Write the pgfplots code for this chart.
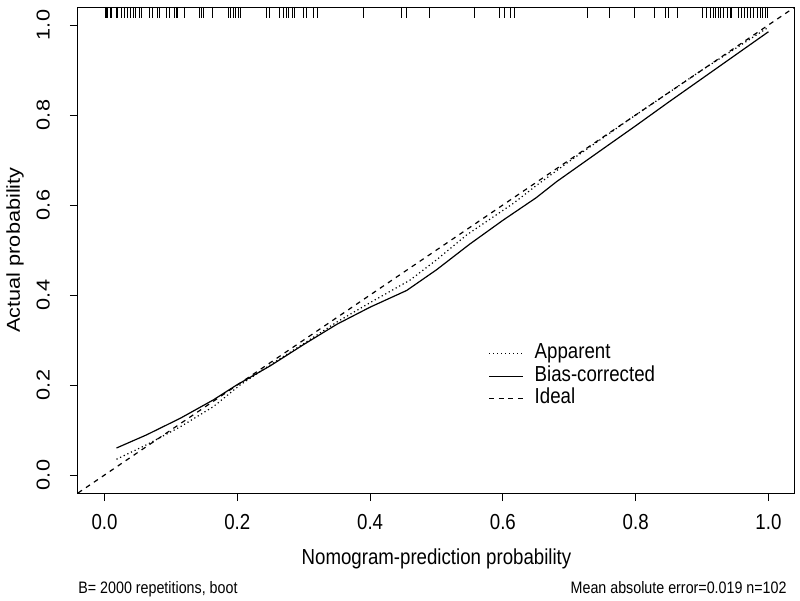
\documentclass[border=0pt]{standalone}
\usepackage{fontspec}
\setmainfont{Liberation Sans}
\newfontfamily\rfont{Liberation Sans}[FakeStretch=0.86]
\usepackage{graphicx}
\usepackage{pgfplots}
\pgfplotsset{compat=1.18}
\usetikzlibrary{calc}

\newcommand\axfont{\rfont\fontsize{10.85}{13}\selectfont}
\newcommand\vfont{\fontsize{10.85}{13}\selectfont}
\newcommand\subfont{\rfont\fontsize{8.3}{10}\selectfont}
\newcommand\sq[1]{\scalebox{1}[0.86]{#1}}

\begin{document}
\begin{tikzpicture}
  \begin{axis}[
      scale only axis, width=358.5pt, height=243pt,
      xmin=-0.04, xmax=1.04, ymin=-0.04, ymax=1.04,
      axis line style={line width=0.5pt},
      tick align=outside, major tick length=4pt,
      tick style={black, line width=0.5pt},
      xtick pos=bottom, ytick pos=left,
      xtick={0,0.2,0.4,0.6,0.8,1}, ytick={0,0.2,0.4,0.6,0.8,1},
      xticklabels={0.0,0.2,0.4,0.6,0.8,1.0},
      yticklabels={\sq{0.0},\sq{0.2},\sq{0.4},\sq{0.6},\sq{0.8},\sq{1.0}},
      xticklabel style={font=\axfont, yshift=-3pt},
      yticklabel style={font=\vfont, rotate=90, anchor=south, yshift=6.5pt},
      xlabel={Nomogram-prediction probability},
      xlabel style={font=\axfont, at={(rel axis cs:0.5,0)}, anchor=center, yshift=-33pt},
      ylabel={\sq{Actual probability}},
      ylabel style={font=\vfont, at={(rel axis cs:0,0.5)}, anchor=center, yshift=31.5pt},
      legend style={draw=none, fill=none, at={(rel axis cs:0.572,0.240)}, anchor=west,
        font=\axfont, row sep=0pt, inner sep=0pt,
        nodes={inner sep=0pt, text height=8pt, text depth=3.25pt},
        /tikz/every odd column/.append style={column sep=5.5pt}},
      legend cell align=left,
      legend image code/.code={\draw[#1] (0pt,0pt) -- (17pt,0pt);},
    ]
    % Apparent
    \addplot[black, line width=0.6pt, dash pattern=on 0.6pt off 1.4pt] coordinates {
      (0.018,0.035) (0.063,0.067) (0.114,0.107) (0.164,0.152) (0.204,0.200)
      (0.25,0.245) (0.30,0.292) (0.35,0.340) (0.40,0.383) (0.46,0.433)
      (0.50,0.478) (0.545,0.533) (0.616,0.604) (0.651,0.644) (0.70,0.697)
      (0.80,0.800) (0.90,0.900) (1.00,0.995)};
    \addlegendentry{Apparent}
    % Bias-corrected
    \addplot[black, line width=0.6pt] coordinates {
      (0.018,0.060) (0.063,0.089) (0.114,0.126) (0.164,0.167) (0.199,0.200)
      (0.25,0.243) (0.30,0.290) (0.35,0.335) (0.40,0.373) (0.455,0.410)
      (0.50,0.456) (0.55,0.513) (0.60,0.566) (0.65,0.616) (0.681,0.652)
      (0.75,0.724) (0.80,0.776) (0.85,0.829) (0.90,0.881) (0.95,0.933) (1.00,0.985)};
    \addlegendentry{Bias-corrected}
    % Ideal
    \addplot[black, line width=0.6pt, dash pattern=on 2.4pt off 2.4pt] coordinates {
      (-0.04,-0.04) (1.04,1.04)};
    \addlegendentry{Ideal}
    % rug of predicted probabilities
    \addplot[only marks, mark=|, mark size=2.75pt, mark options={black, line width=0.5pt}, forget plot] coordinates {
      (0.001,1.028) (0.003,1.028) (0.005,1.028) (0.0085,1.028) (0.011,1.028)
      (0.0175,1.028) (0.020,1.028) (0.026,1.028) (0.030,1.028) (0.035,1.028)
      (0.039,1.028) (0.043,1.028) (0.047,1.028) (0.0525,1.028) (0.055,1.028)
      (0.0675,1.028) (0.072,1.028) (0.080,1.028) (0.083,1.028) (0.093,1.028)
      (0.0975,1.028) (0.105,1.028) (0.108,1.028) (0.110,1.028) (0.121,1.028)
      (0.143,1.028) (0.1455,1.028) (0.149,1.028) (0.162,1.028) (0.186,1.028)
      (0.190,1.028) (0.1935,1.028) (0.1975,1.028) (0.2015,1.028) (0.205,1.028)
      (0.244,1.028) (0.249,1.028) (0.263,1.028) (0.269,1.028) (0.2735,1.028)
      (0.2775,1.028) (0.2825,1.028) (0.2865,1.028) (0.300,1.028) (0.3045,1.028)
      (0.314,1.028) (0.3205,1.028) (0.390,1.028) (0.448,1.028) (0.4555,1.028)
      (0.490,1.028) (0.5565,1.028) (0.5947,1.028) (0.602,1.028) (0.612,1.028)
      (0.618,1.028) (0.728,1.028) (0.761,1.028) (0.7975,1.028) (0.828,1.028)
      (0.8445,1.028) (0.849,1.028) (0.863,1.028) (0.900,1.028) (0.9067,1.028)
      (0.912,1.028) (0.917,1.028) (0.921,1.028) (0.9255,1.028) (0.9285,1.028)
      (0.933,1.028) (0.938,1.028) (0.943,1.028) (0.945,1.028) (0.955,1.028)
      (0.959,1.028) (0.964,1.028) (0.968,1.028) (0.9735,1.028) (0.978,1.028)
      (0.983,1.028) (0.988,1.028) (0.9915,1.028) (0.995,1.028) (0.998,1.028)
      (0.999,1.028)};
    \coordinate (ll) at (rel axis cs:0,0);
    \coordinate (lr) at (rel axis cs:1,0);
    \coordinate (ur) at (rel axis cs:1,1);
  \end{axis}
  \node[anchor=base west, font=\subfont, inner sep=0pt] at ($(ll)+(0,-50.5pt)$) {B= 2000 repetitions, boot};
  \node[anchor=base east, font=\subfont, inner sep=0pt] at ($(lr)+(-4pt,-50.5pt)$) {Mean absolute error=0.019 n=102};
  \pgfresetboundingbox
  \path ($(ll)+(-39pt,-54pt)$) rectangle ($(ur)+(2.5pt,3.5pt)$);
\end{tikzpicture}
\end{document}
